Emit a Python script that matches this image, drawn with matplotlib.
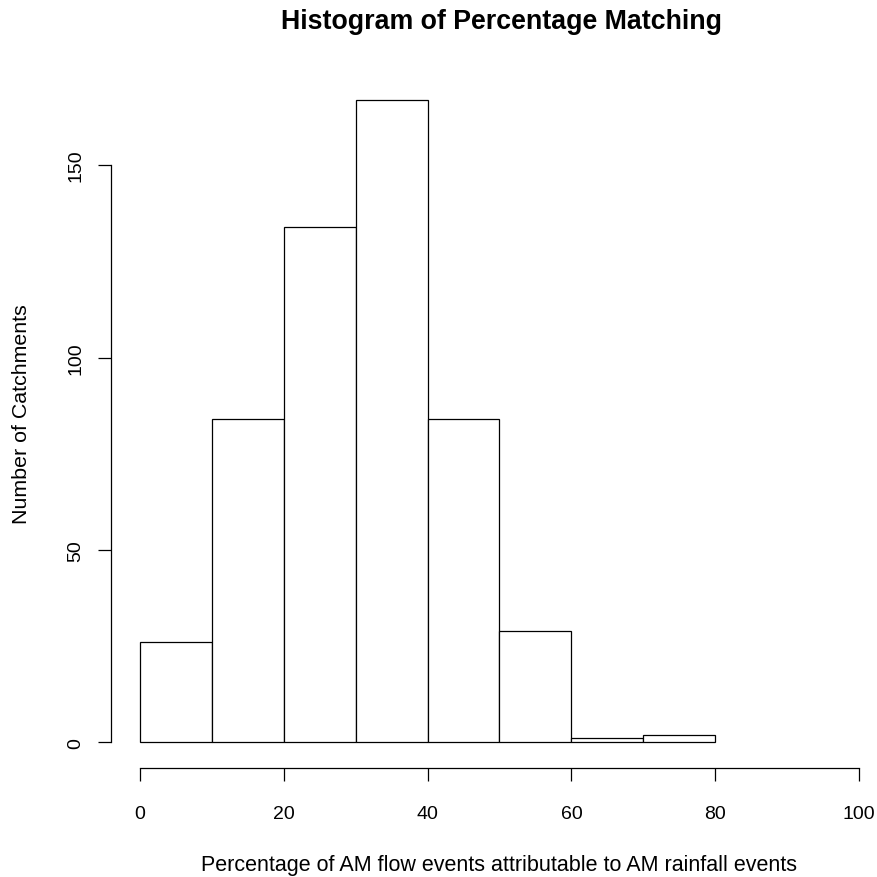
import matplotlib
matplotlib.use("Agg")
import matplotlib.pyplot as plt
import numpy as np

plt.rcParams['font.family'] = ['Liberation Sans', 'DejaVu Sans']

# histogram bins (percent) and counts
bin_edges = [0, 10, 20, 30, 40, 50, 60, 70, 80]
counts = [26, 84, 134, 167, 84, 29, 1, 2]
x_ticks = [0, 20, 40, 60, 80, 100]
y_ticks = [0, 50, 100, 150]

W = H = 878
fig = plt.figure(figsize=(W / 100, H / 100), dpi=100)

# plot region in pixels (R style, 4% padding on both axes)
left_px, right_px = 111, 888
top_px, bottom_px = 75, 769
ax = fig.add_axes([left_px / W, (H - bottom_px) / H,
                   (right_px - left_px) / W, (bottom_px - top_px) / H])

ymax = max(counts)
ax.set_xlim(-4, 104)
ax.set_ylim(-0.04 * ymax, 1.04 * ymax)

ax.bar(bin_edges[:-1], counts, width=np.diff(bin_edges), align='edge',
       facecolor='white', edgecolor='black', linewidth=0.9)

for s in ['top', 'right']:
    ax.spines[s].set_visible(False)
ax.spines['left'].set_bounds(0, 150)
ax.spines['bottom'].set_bounds(0, 100)
for s in ['left', 'bottom']:
    ax.spines[s].set_linewidth(0.9)

ax.set_xticks(x_ticks)
ax.set_yticks(y_ticks)
ax.set_yticklabels([str(v) for v in y_ticks], rotation=90, va='center')
ax.tick_params(axis='both', direction='out', length=9.4, width=0.9,
               labelsize=14, colors='black')
ax.tick_params(axis='x', pad=17)
ax.tick_params(axis='y', pad=10)

fig.text(502 / W, 1 - 22 / H, 'Histogram of Percentage Matching',
         ha='center', va='center', fontsize=19.3, fontweight='bold')
fig.text(499 / W, 1 - 866 / H,
         'Percentage of AM flow events attributable to AM rainfall events',
         ha='center', va='center', fontsize=15.5)
fig.text(22 / W, 1 - 414 / H, 'Number of Catchments',
         ha='center', va='center', rotation=90, fontsize=15.4)

fig.savefig('out.png', dpi=100)
